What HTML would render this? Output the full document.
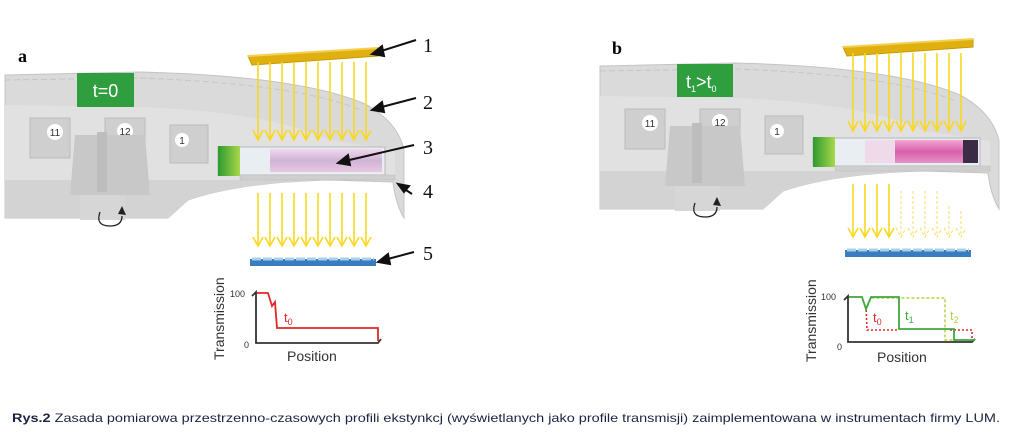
<!DOCTYPE html>
<html><head><meta charset="utf-8"><style>
html,body{margin:0;padding:0;background:#fff;}
svg{display:block;}
</style></head><body>
<svg width="1024" height="434" viewBox="0 0 1024 434" xmlns="http://www.w3.org/2000/svg">
<defs>
<linearGradient id="gcap" x1="0" x2="1"><stop offset="0" stop-color="#2e9a2e"/><stop offset="1" stop-color="#a8d84a"/></linearGradient>
<linearGradient id="gpink" x1="0" y1="0" x2="0" y2="1"><stop offset="0" stop-color="#f0d8ec"/><stop offset="0.5" stop-color="#cfb4d8"/><stop offset="1" stop-color="#e8c8e0"/></linearGradient>
<linearGradient id="gpink2" x1="0" y1="0" x2="0" y2="1"><stop offset="0" stop-color="#f2a8d6"/><stop offset="0.5" stop-color="#d860a8"/><stop offset="1" stop-color="#e890c8"/></linearGradient>
<g id="body">
  <path d="M5,75 L140,72 Q300,76 365,104 Q398,122 404,150 L404,218 Q396,205 393,182 L330,180 Q240,182 188,200 L168,218 L5,218 Z" fill="#dadada" stroke="#c4c4c4"/>
  <path d="M5,105 L140,107 Q270,112 330,140 L395,150 L395,180 L330,180 Q240,182 188,200 L168,218 L5,218 Z" fill="#e1e1e1"/>
  <path d="M5,180 L330,180 Q240,182 188,200 L168,218 L5,218 Z" fill="#d3d3d3"/>
  <path d="M5,80 L140,78 Q300,84 360,110" fill="none" stroke="#c6c6c6" stroke-dasharray="6 3"/>
  <rect x="30" y="118" width="40" height="40" fill="#cfcfcf" stroke="#bbb"/>
  <rect x="105" y="118" width="40" height="40" fill="#cfcfcf" stroke="#bbb"/>
  <rect x="170" y="125" width="38" height="38" fill="#cfcfcf" stroke="#bbb"/>
  <circle cx="55" cy="132" r="8" fill="#fff"/><circle cx="125" cy="131" r="8" fill="#fff"/><circle cx="182" cy="140" r="7" fill="#fff"/>
  <path d="M75,135 L145,135 L150,195 L70,195 Z" fill="#c8c8c8"/>
  <rect x="97" y="132" width="10" height="60" fill="#bdbdbd"/>
  <rect x="80" y="195" width="45" height="25" fill="#d6d6d6"/>
  <rect x="218" y="147" width="167" height="28" fill="#e8eef2" stroke="#b8b8b8"/>
  <rect x="240" y="175" width="155" height="5" fill="#cfcfcf" stroke="#bbb" stroke-width="0.5"/>
  <rect x="218" y="146" width="22" height="30" fill="url(#gcap)"/>
  <path d="M100,212 Q95,226 110,226 Q122,226 122,216" fill="none" stroke="#222" stroke-width="1.3"/>
  <path d="M118,214 L122,206 L126,215 Z" fill="#222"/>
</g>
<g id="arrowsTop" stroke="#f8d820" stroke-width="1.6" fill="none">
  <path d="M258,62V138M270,62V138M282,62V138M294,62V138M306,62V138M318,62V138M330,62V138M342,62V138M354,62V138M366,62V138"/>
  <path d="M253,130L258,140L263,130M265,130L270,140L275,130M277,130L282,140L287,130M289,130L294,140L299,130M301,130L306,140L311,130M313,130L318,140L323,130M325,130L330,140L335,130M337,130L342,140L347,130M349,130L354,140L359,130M361,130L366,140L371,130"/>
</g>
<g id="bar"><path d="M248,56 L378,48 L378,56 L252,65 Z" fill="#e0b010" stroke="#c89a00"/><path d="M248,56 L378,48" stroke="#f5d050" stroke-width="2"/></g>
<g id="det"><rect x="250" y="259" width="126" height="7" fill="#3a7cc0"/><path d="M252,259 L374,259" stroke="#a8d0e8" stroke-width="3" stroke-dasharray="9 2"/></g>
</defs>

<!-- Panel a -->
<use href="#body"/>
<rect x="270" y="149" width="112" height="23" fill="url(#gpink)"/>
<use href="#bar"/>
<use href="#arrowsTop"/>
<g stroke="#f8d820" stroke-width="1.6" fill="none">
 <path d="M258,193V245M270,193V245M282,193V245M294,193V245M306,193V245M318,193V245M330,193V245M342,193V245M354,193V245M366,193V245"/>
 <path d="M253,237L258,246L263,237M265,237L270,246L275,237M277,237L282,246L287,237M289,237L294,246L299,237M301,237L306,246L311,237M313,237L318,246L323,237M325,237L330,246L335,237M337,237L342,246L347,237M349,237L354,246L359,237M361,237L366,246L371,237"/>
</g>
<use href="#det"/>
<rect x="77" y="73" width="57" height="34" fill="#2e9e3e"/>
<text x="105.5" y="97" font-family="Liberation Sans, sans-serif" font-size="18" fill="#fff" text-anchor="middle">t=0</text>
<text x="18" y="62" font-family="Liberation Serif, serif" font-weight="bold" font-size="18">a</text>
<g font-family="Liberation Serif, serif" font-size="20" fill="#111">
<text x="423" y="52">1</text><text x="423" y="109">2</text><text x="423" y="154">3</text><text x="423" y="198">4</text><text x="423" y="260">5</text></g>
<g stroke="#111" stroke-width="2" fill="#111">
 <line x1="416" y1="40" x2="378" y2="52"/><path d="M372,54 L382,46 L384,56 Z"/>
 <line x1="416" y1="98" x2="378" y2="108"/><path d="M372,110 L382,102 L384,112 Z"/>
 <line x1="414" y1="145" x2="345" y2="161"/><path d="M338,163 L348,155 L350,165 Z"/>
 <line x1="412" y1="194" x2="403" y2="188"/><path d="M398,184 L409,186 L404,192 Z"/>
 <line x1="414" y1="252" x2="384" y2="260"/><path d="M378,262 L388,254 L390,264 Z"/>
</g>
<!-- graph a -->
<path d="M252,296 L256,292 L256,343 L378,343 L381,339" fill="none" stroke="#333" stroke-width="1.8"/>
<path d="M257,293 L268,293 L272,306 L275,302 L277,328 L378,328 L378,341" fill="none" stroke="#e02828" stroke-width="1.8"/>
<text x="284" y="322" font-family="Liberation Sans, sans-serif" font-size="13" fill="#e02828">t<tspan font-size="9" dy="3">0</tspan></text>
<text x="230" y="297" font-family="Liberation Sans, sans-serif" font-size="9" fill="#333">100</text>
<text x="244" y="348" font-family="Liberation Sans, sans-serif" font-size="9" fill="#333">0</text>
<text x="287" y="361" font-family="Liberation Sans, sans-serif" font-size="14" fill="#333">Position</text>
<text transform="translate(224,360) rotate(-90)" font-family="Liberation Sans, sans-serif" font-size="14" fill="#333">Transmission</text>

<!-- Panel b -->
<g transform="translate(595,-9)">
 <use href="#body"/>
 <rect x="270" y="149" width="30" height="23" fill="#eedae8"/>
 <rect x="300" y="149" width="70" height="23" fill="url(#gpink2)"/>
 <rect x="368" y="149" width="15" height="23" fill="#3a2c44"/>
 <use href="#bar"/>
 <use href="#arrowsTop"/>
 <g stroke="#f8d820" stroke-width="1.6" fill="none">
  <path d="M258,193V245M270,193V245M282,193V245M294,193V245"/>
  <path d="M253,237L258,246L263,237M265,237L270,246L275,237M277,237L282,246L287,237M289,237L294,246L299,237"/>
 </g>
 <g stroke="#f5dc60" stroke-width="1" fill="none" stroke-dasharray="3 2">
  <path d="M306,200V245M318,200V245M330,200V245M342,200V245M354,215V245M366,220V245"/>
  <path d="M301,237L306,246L311,237M313,237L318,246L323,237M325,237L330,246L335,237M337,237L342,246L347,237M349,237L354,246L359,237M361,237L366,246L371,237"/>
 </g>
 <use href="#det"/>
</g>
<g font-family="Liberation Sans, sans-serif" font-size="10" text-anchor="middle" fill="#333">
<text x="55" y="136">11</text><text x="125" y="135">12</text><text x="182" y="144">1</text>
<text x="650" y="127">11</text><text x="720" y="126">12</text><text x="777" y="135">1</text></g>
<rect x="677" y="64" width="56" height="33" fill="#2e9e3e"/>
<text x="686" y="88" font-family="Liberation Sans, sans-serif" font-size="18" fill="#fff">t<tspan font-size="9" dy="4">1</tspan><tspan dy="-4">&gt;t</tspan><tspan font-size="9" dy="4">0</tspan></text>
<text x="612" y="54" font-family="Liberation Serif, serif" font-weight="bold" font-size="18">b</text>
<!-- graph b -->
<path d="M844,300 L848,296 L848,342 L972,342 L975,339" fill="none" stroke="#333" stroke-width="1.8"/>
<path d="M849,297 L862,297 L866,310 L871,298 L945,298 L945,340 L975,340" fill="none" stroke="#b8d040" stroke-width="1.5" stroke-dasharray="3 2"/>
<path d="M866,306 L867,330 L897,330 M950,330 L972,330 L972,340" fill="none" stroke="#e02828" stroke-width="1.6" stroke-dasharray="2 2"/>
<path d="M849,297 L862,297 L866,309 L871,297 L899,297 L899,329 L954,329 L954,340 L975,340" fill="none" stroke="#40a840" stroke-width="1.8"/>
<text x="873" y="322" font-family="Liberation Sans, sans-serif" font-size="13" fill="#e02828">t<tspan font-size="9" dy="3">0</tspan></text>
<text x="905" y="320" font-family="Liberation Sans, sans-serif" font-size="13" fill="#40a840">t<tspan font-size="9" dy="3">1</tspan></text>
<text x="950" y="320" font-family="Liberation Sans, sans-serif" font-size="13" fill="#b8d040">t<tspan font-size="9" dy="3">2</tspan></text>
<text x="821" y="300" font-family="Liberation Sans, sans-serif" font-size="9" fill="#333">100</text>
<text x="837" y="350" font-family="Liberation Sans, sans-serif" font-size="9" fill="#333">0</text>
<text x="877" y="362" font-family="Liberation Sans, sans-serif" font-size="14" fill="#333">Position</text>
<text transform="translate(816,362) rotate(-90)" font-family="Liberation Sans, sans-serif" font-size="14" fill="#333">Transmission</text>

<text x="12" y="422" textLength="988" lengthAdjust="spacingAndGlyphs" font-family="Liberation Sans Narrow, Liberation Sans, sans-serif" font-size="12" fill="#1a2440"><tspan font-weight="bold">Rys.2</tspan> Zasada pomiarowa przestrzenno-czasowych profili ekstynkcj  (wyświetlanych jako profile transmisji) zaimplementowana w instrumentach firmy LUM.</text>
</svg>
</body></html>
